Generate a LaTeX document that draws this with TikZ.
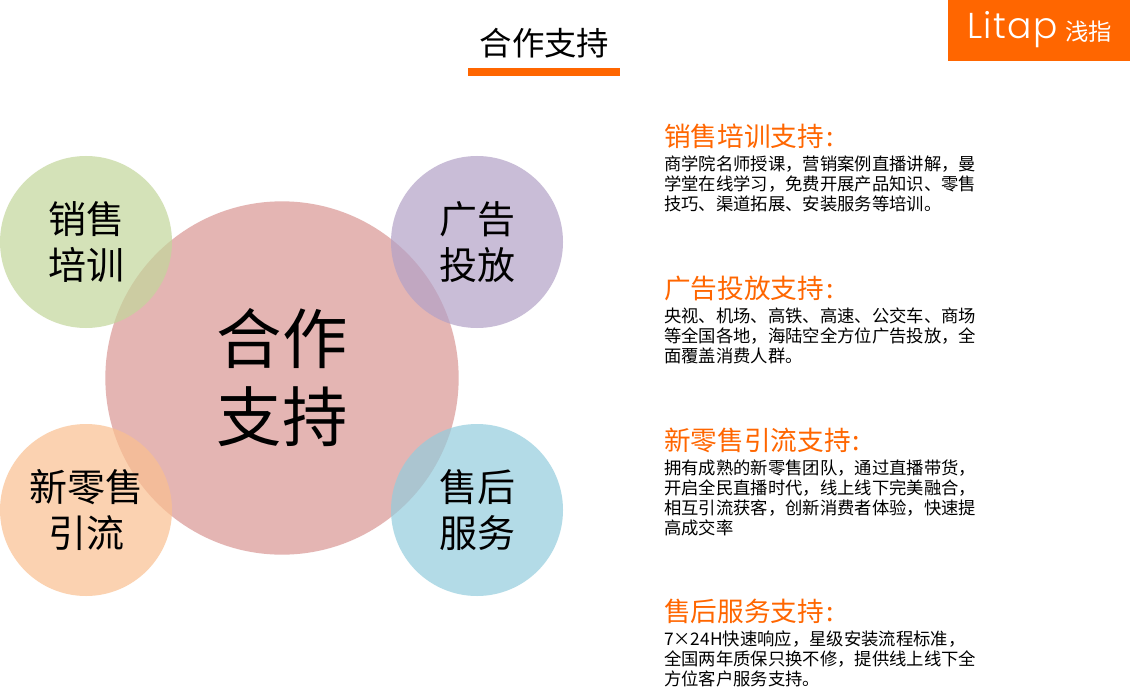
\documentclass[tikz,border=0pt]{standalone}
\usepackage{fontspec}
\usepackage{tikz}
\setmainfont{Noto Sans CJK SC}
\newfontfamily\logofont[UprightFont=* Light,LetterSpace=4]{Poppins}
\definecolor{litaporange}{HTML}{FF6600}
\definecolor{hubred}{HTML}{D99694}
\definecolor{salesgreen}{HTML}{C3D69B}
\definecolor{adpurple}{HTML}{B3A2C7}
\definecolor{retailorange}{HTML}{FAC090}
\definecolor{serviceblue}{HTML}{93CDDD}

\begin{document}
\begin{tikzpicture}[
  x=0.75pt, y=-0.75pt,
  every node/.style={inner sep=0pt, outer sep=0pt},
  bubble/.style={circle, minimum size=129pt, fill opacity=0.7, text opacity=1,
    align=center, font=\fontsize{28.5}{34.5}\selectfont},
  heading/.style={anchor=west, text=litaporange, font=\fontsize{20}{24}\selectfont},
  body/.style={anchor=north west, align=left, font=\fontsize{13}{15}\selectfont}
]
\useasboundingbox[fill=white] (0,0) rectangle (1130,695);

% title and logo
\node (title) at (544.5,43) {\fontsize{24.3}{28}\selectfont 合作支持};
\node[fill=litaporange, minimum width=114pt, minimum height=6pt] (titlebar) at (544,72) {};
\node[fill=litaporange, minimum width=136.5pt, minimum height=45.75pt] (logobox) at (1039,30.5) {};
\node[text=white, anchor=west] (logotext) at (967,30) {\logofont\fontsize{27}{27}\selectfont Litap};
\node[text=white, anchor=west] (logocn) at (1065,32) {\fontsize{17.5}{20}\selectfont 浅指};

% circles
\node[bubble, minimum size=265pt, fill=hubred, font=\fontsize{49}{58.5}\selectfont] (hub) at (282,378) {合作\\支持};
\node[bubble, fill=salesgreen] (sales) at (86,242) {销售\\培训};
\node[bubble, fill=adpurple] (ads) at (477,242) {广告\\投放};
\node[bubble, fill=retailorange] (retail) at (86,510) {新零售\\引流};
\node[bubble, fill=serviceblue] (service) at (477,510) {售后\\服务};

% right column
\node[heading] (salesH) at (664,136) {销售培训支持\kern1.5pt:};
\node[body] (salesT) at (664,156) {商学院名师授课，营销案例直播讲解，曼\\学堂在线学习，免费开展产品知识、零售\\技巧、渠道拓展、安装服务等培训。};
\node[heading] (adsH) at (664,288) {广告投放支持\kern1.5pt:};
\node[body] (adsT) at (664,308) {央视、机场、高铁、高速、公交车、商场\\等全国各地，海陆空全方位广告投放，全\\面覆盖消费人群。};
\node[heading] (retailH) at (664,440) {新零售引流支持\kern1.5pt:};
\node[body] (retailT) at (664,460) {拥有成熟的新零售团队，通过直播带货，\\开启全民直播时代，线上线下完美融合，\\相互引流获客，创新消费者体验，快速提\\高成交率};
\node[heading] (serviceH) at (664,611) {售后服务支持\kern1.5pt:};
\node[body] (serviceT) at (664,631) {7×24H快速响应，星级安装流程标准，\\全国两年质保只换不修，提供线上线下全\\方位客户服务支持。};
\end{tikzpicture}
\end{document}
